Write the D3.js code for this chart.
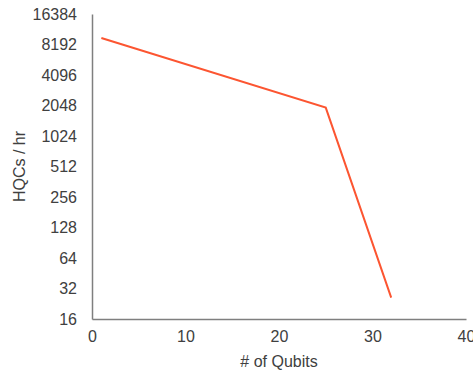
<!DOCTYPE html>
<html>
<head>
<meta charset="utf-8">
<script src="https://cdn.jsdelivr.net/npm/d3@7"></script>
<style>
  body { margin: 0; background: #fff; }
  text { font-family: "Liberation Sans", Arial, sans-serif; }
</style>
</head>
<body>
<div id="chart"></div>
<script>
// data
var qubits = [1, 25, 32];
var hqcsPerHr = [9500, 1950, 26];
var yTicks = [16, 32, 64, 128, 256, 512, 1024, 2048, 4096, 8192, 16384];
var xTicks = [0, 10, 20, 30, 40];

var width = 473, height = 373;
var margin = {top: 14, right: 7, bottom: 54, left: 92};
var w = width - margin.left - margin.right,
    h = height - margin.top - margin.bottom;

var svg = d3.select("#chart").append("svg")
  .attr("width", width)
  .attr("height", height)
  .style("background-color", "white");

var g = svg.append("g")
  .attr("transform", "translate(" + margin.left + "," + margin.top + ")");

var x = d3.scaleLinear().domain([0, 40]).range([0, w]);
var y = d3.scaleLog().base(2).domain([16, 16384]).range([h, 0]);

// x axis
var xaxis = g.append("g")
  .attr("transform", "translate(0," + h + ")")
  .call(d3.axisBottom(x).tickValues(xTicks).tickSize(0).tickPadding(12));
xaxis.select("path").attr("stroke", "#7f7f7f").attr("stroke-width", 1.5);
xaxis.selectAll("text").attr("fill", "#404040").style("font-size", "16px");

// y axis
var yaxis = g.append("g")
  .call(d3.axisLeft(y).tickValues(yTicks).tickFormat(d3.format("d")).tickSize(0).tickPadding(15));
yaxis.select("path").attr("stroke", "#7f7f7f").attr("stroke-width", 1.5);
yaxis.selectAll("text").attr("fill", "#404040").style("font-size", "16px");

var data = qubits.map(function(d, i) { return {q: d, v: hqcsPerHr[i]}; });

g.append("path")
  .datum(data)
  .attr("fill", "none")
  .attr("stroke", "#fc5531")
  .attr("stroke-width", 2)
  .attr("d", d3.line()
    .x(function(d) { return x(d.q); })
    .y(function(d) { return y(d.v); }));

// titles
svg.append("text")
  .attr("x", margin.left + w / 2)
  .attr("y", 367)
  .attr("text-anchor", "middle")
  .attr("fill", "#404040")
  .style("font-size", "16px")
  .text("# of Qubits");

svg.append("text")
  .attr("transform", "translate(25," + (margin.top + h / 2) + ") rotate(-90)")
  .attr("text-anchor", "middle")
  .attr("fill", "#404040")
  .style("font-size", "16px")
  .text("HQCs / hr");
</script>
</body>
</html>
